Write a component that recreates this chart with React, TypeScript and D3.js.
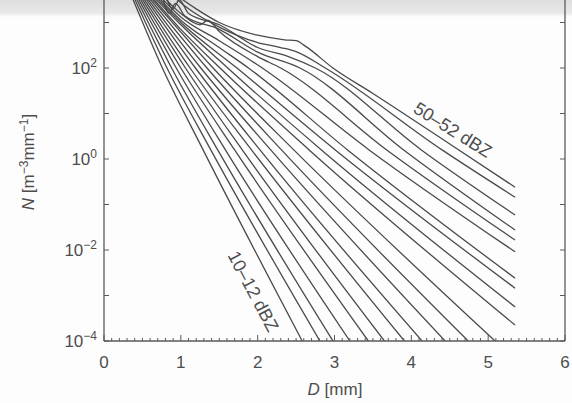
import React from 'react';
import * as d3 from 'd3';

// Reflectivity bins (one curve per bin)
const bins: string[] = [
  '10–12', '12–14', '14–16', '16–18', '18–20', '20–22', '22–24', '24–26', '26–28', '28–30',
  '30–32', '32–34', '34–36', '36–38', '38–40', '40–42', '42–44', '44–46', '46–48', '48–50', '50–52',
];

// [D (mm), log10 N (m^-3 mm^-1)], one list per bin
const curve10: [number, number][] = [[0.33, 3.7], [0.76, 2.0], [1.29, 0.2], [2.58, -4.0]];
const curve12: [number, number][] = [[0.35, 3.7], [0.82, 2.0], [1.39, 0.2], [2.81, -4.0]];
const curve14: [number, number][] = [[0.37, 3.7], [0.88, 2.0], [1.48, 0.2], [2.98, -4.0]];
const curve16: [number, number][] = [[0.39, 3.7], [0.94, 2.0], [1.58, 0.2], [3.2, -4.0]];
const curve18: [number, number][] = [[0.41, 3.7], [1.0, 2.0], [1.7, 0.2], [3.44, -4.0]];
const curve20: [number, number][] = [[0.43, 3.7], [1.06, 2.0], [1.8, 0.2], [3.65, -4.0]];
const curve22: [number, number][] = [[0.45, 3.7], [1.12, 2.0], [1.92, 0.2], [3.91, -4.0]];
const curve24: [number, number][] = [[0.47, 3.7], [1.19, 2.0], [2.03, 0.2], [4.14, -4.0]];
const curve26: [number, number][] = [[0.49, 3.7], [1.26, 2.0], [2.17, 0.2], [4.44, -4.0]];
const curve28: [number, number][] = [[0.51, 3.7], [1.34, 2.0], [2.31, 0.2], [4.74, -4.0]];
const curve30: [number, number][] = [[0.53, 3.7], [1.42, 2.0], [2.47, 0.2], [5.09, -4.0]];
const curve32: [number, number][] = [[0.55, 3.7], [1.0, 2.85], [1.51, 2.0], [2.67, 0.2], [5.35, -3.65]];
const curve34: [number, number][] = [[0.57, 3.7], [1.0, 2.95], [1.61, 2.0], [2.83, 0.2], [5.35, -3.25]];
const curve36: [number, number][] = [[0.6, 3.7], [1.0, 3.0], [1.73, 2.0], [3.01, 0.2], [5.35, -2.84]];
const curve38: [number, number][] = [[0.63, 3.7], [1.0, 3.05], [1.5, 2.45], [1.88, 2.0], [3.17, 0.2], [5.35, -2.62]];
const curve40: [number, number][] = [[0.66, 3.7], [1.0, 3.12], [1.5, 2.6], [2.06, 2.0], [3.45, 0.2], [5.35, -2.04]];
const curve42: [number, number][] = [[0.7, 3.7], [1.0, 3.2], [1.25, 2.95], [1.35, 3.05], [1.5, 2.8], [2.0, 2.25], [2.3, 2.0], [3.68, 0.2], [5.35, -1.78]];
const curve44: [number, number][] = [[0.74, 3.7], [0.85, 3.2], [0.93, 3.42], [1.05, 3.15], [1.5, 2.85], [2.0, 2.35], [2.55, 2.0], [3.9, 0.2], [5.35, -1.56]];
const curve46: [number, number][] = [[0.78, 3.7], [0.9, 3.3], [0.98, 3.5], [1.1, 3.2], [1.5, 2.95], [2.0, 2.45], [2.4, 2.25], [2.75, 2.0], [4.13, 0.2], [5.35, -1.23]];
const curve48: [number, number][] = [[0.82, 3.7], [1.1, 3.3], [1.5, 2.9], [2.0, 2.56], [2.3, 2.45], [2.5, 2.36], [2.88, 2.0], [4.4, 0.2], [5.35, -0.84]];
const curve50: [number, number][] = [[0.86, 3.7], [1.2, 3.3], [1.5, 3.0], [2.0, 2.72], [2.35, 2.62], [2.5, 2.6], [2.62, 2.48], [2.98, 2.0], [3.5, 1.44], [4.5, 0.33], [5.35, -0.62]];

const curves = [
  curve10, curve12, curve14, curve16, curve18, curve20, curve22, curve24, curve26, curve28,
  curve30, curve32, curve34, curve36, curve38, curve40, curve42, curve44, curve46, curve48, curve50,
];

const xTicks: number[] = [0, 1, 2, 3, 4, 5, 6];
const yLabelExps: number[] = [-4, -2, 0, 2];
const yTickExps: number[] = [-4, -3, -2, -1, 0, 1, 2, 3];

const W = 572;
const H = 403;
const FONT = '"Liberation Sans", Arial, Helvetica, sans-serif';
const TXT = '#4d4d4d';
const AX = '#5a5a5a';

export default function App() {
  const x = d3.scaleLinear().domain([0, 6]).range([104, 565]);
  const y = d3.scaleLog().domain([1e-4, 1e2]).range([341, 68]);
  const line = d3
    .line<[number, number]>()
    .x((d) => x(d[0]))
    .y((d) => y(Math.pow(10, d[1])))
    .curve(d3.curveMonotoneX);

  const minorX = d3.range(0, 60.5, 1).map((k) => k / 10);

  return (
    <svg
      width={W}
      height={H}
      style={{ position: 'absolute', left: 0, top: 0, background: '#fdfdfd' }}
      fontFamily={FONT}
    >
      <defs>
        <linearGradient id="topband" x1="0" y1="0" x2="0" y2="1">
          <stop offset="0" stopColor="#dedede" />
          <stop offset="0.75" stopColor="#e8e8e8" />
          <stop offset="1" stopColor="#fdfdfd" />
        </linearGradient>
        <clipPath id="plot">
          <rect x={x(0)} y={-60} width={x(6) - x(0)} height={y(1e-4) + 60} />
        </clipPath>
      </defs>
      <rect x={0} y={0} width={W} height={H} fill="#fdfdfd" />
      {/* scanned top band */}
      <rect x={0} y={0} width={W} height={17} fill="url(#topband)" />

      {/* curves */}
      <g clipPath="url(#plot)" fill="none" stroke="#4a4a4a" strokeWidth={1.3} strokeLinejoin="round">
        {curves.map((c, i) => (
          <path key={bins[i]} d={line(c) || ''} />
        ))}
      </g>

      {/* frame */}
      <g stroke={AX} strokeWidth={1.3} fill="none">
        <line x1={x(0)} y1={0} x2={x(0)} y2={y(1e-4)} />
        <line x1={x(0)} y1={y(1e-4)} x2={x(6)} y2={y(1e-4)} />
        <line x1={x(6)} y1={0} x2={x(6)} y2={y(1e-4)} />
      </g>

      {/* x ticks (inward) */}
      <g stroke={AX} strokeWidth={1}>
        {minorX.map((v) => {
          const major = Math.abs(v - Math.round(v)) < 1e-6;
          return (
            <line
              key={v}
              x1={x(v)}
              x2={x(v)}
              y1={y(1e-4)}
              y2={y(1e-4) - (major ? 6 : 3)}
            />
          );
        })}
      </g>
      {xTicks.map((v) => (
        <text key={v} x={x(v)} y={368} textAnchor="middle" fontSize={17} fill={TXT}>
          {v}
        </text>
      ))}

      {/* y ticks (inward, both sides) */}
      <g stroke={AX} strokeWidth={1}>
        {yTickExps.map((e) => (
          <g key={e}>
            <line x1={x(0)} x2={x(0) + 5} y1={y(Math.pow(10, e))} y2={y(Math.pow(10, e))} />
            <line x1={x(6)} x2={x(6) - 5} y1={y(Math.pow(10, e))} y2={y(Math.pow(10, e))} />
          </g>
        ))}
      </g>
      {yLabelExps.map((e) => (
        <text key={e} x={97} y={y(Math.pow(10, e)) + 6} textAnchor="end" fontSize={17} fill={TXT}>
          10
          <tspan dy={-7} fontSize={12}>
            {e < 0 ? '\u2212' + Math.abs(e) : String(e)}
          </tspan>
        </text>
      ))}

      {/* axis titles */}
      <text x={335} y={395} textAnchor="middle" fontSize={17} fill={TXT}>
        <tspan fontStyle="italic">D</tspan> [mm]
      </text>
      <text
        transform="translate(34,162) rotate(-90)"
        textAnchor="middle"
        fontSize={17}
        fill={TXT}
      >
        <tspan fontStyle="italic">N</tspan> [m
        <tspan dy={-6} fontSize={12}>{'\u22123'}</tspan>
        <tspan dy={6}>mm</tspan>
        <tspan dy={-6} fontSize={12}>{'\u22121'}</tspan>
        <tspan dy={6}>]</tspan>
      </text>

      {/* curve labels */}
      <text
        transform="translate(452,131) rotate(32)"
        textAnchor="middle"
        dominantBaseline="middle"
        fontSize={18}
        fill={TXT}
      >
        {bins[bins.length - 1]} dBZ
      </text>
      <text
        transform="translate(252,292) rotate(62)"
        textAnchor="middle"
        dominantBaseline="middle"
        fontSize={18}
        fill={TXT}
      >
        {bins[0]} dBZ
      </text>
    </svg>
  );
}
